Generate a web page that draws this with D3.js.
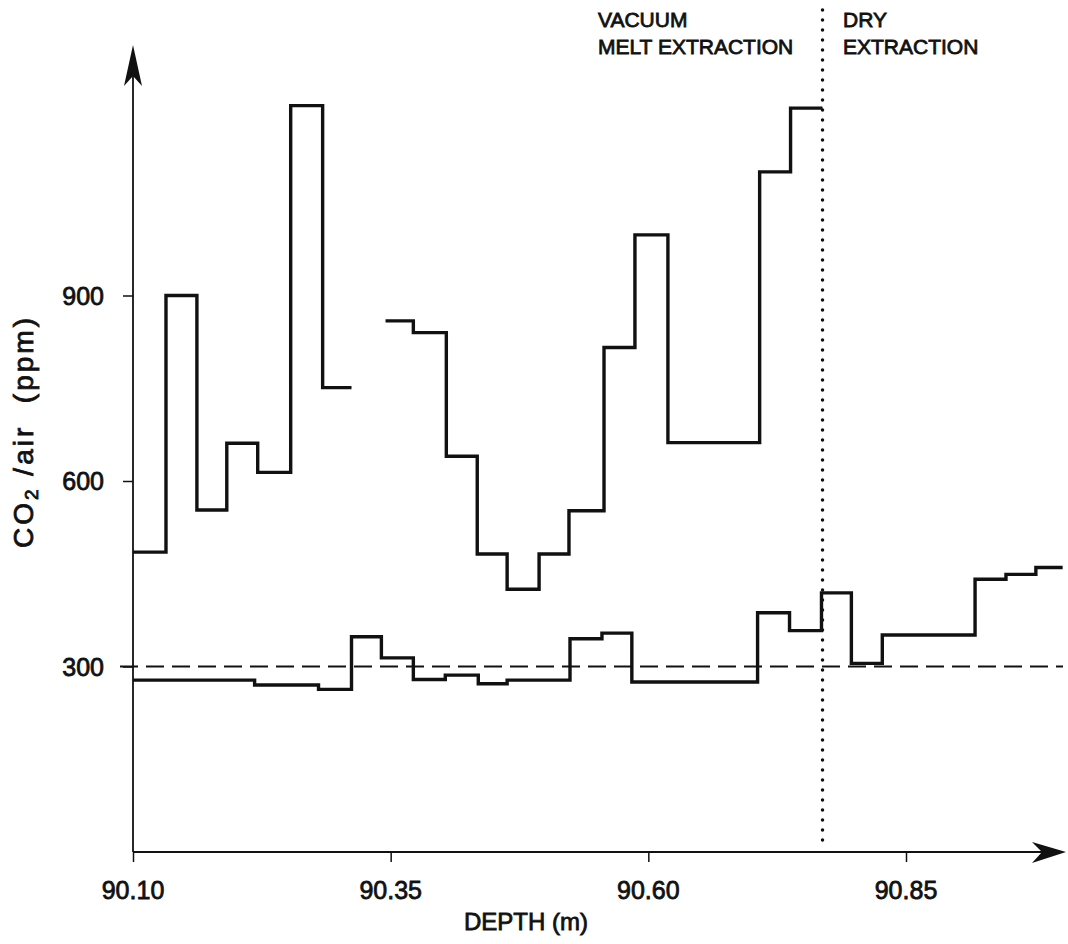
<!DOCTYPE html>
<html>
<head>
<meta charset="utf-8">
<script src="https://cdn.jsdelivr.net/npm/d3@7"></script>
<style>
  body { margin: 0; background: #fff; }
  text { font-family: "Liberation Sans", Arial, sans-serif; fill: #111; stroke: #111; stroke-width: 0.8; }
</style>
</head>
<body>
<svg width="1068" height="944"></svg>
<script>
// vacuum melt extraction, first run (depth breaks in m, CO2 in ppm)
var meltDepthA = [90.100, 90.132, 90.162, 90.191, 90.221, 90.253, 90.284, 90.312];
var meltValueA = [485, 900, 553, 661, 614, 1207, 751];

// vacuum melt extraction, second run
var meltDepthB = [90.345, 90.372, 90.404, 90.434, 90.463, 90.494, 90.523, 90.557, 90.587, 90.619, 90.708, 90.738, 90.769];
var meltValueB = [859, 840, 640, 482, 425, 482, 552, 816, 998, 662, 1100, 1203];

// lower series across both methods
var lowDepth = [90.100, 90.218, 90.280, 90.312, 90.341, 90.372, 90.403, 90.435, 90.463, 90.524, 90.555,
                90.584, 90.706, 90.737, 90.768, 90.797, 90.827, 90.917, 90.947, 90.976, 91.002];
var lowValue = [278, 270, 263, 348, 314, 279, 286, 272, 278, 345, 354,
                275, 387, 358, 419, 305, 351, 441, 449, 460];

var xTicks = [90.10, 90.35, 90.60, 90.85];
var xTickLabels = ["90.10", "90.35", "90.60", "90.85"];
var yTicks = [300, 600, 900];
var refLevel = 300;
var methodSplit = 90.769;

var svg = d3.select("svg");

var x = d3.scaleLinear().domain([90.10, 90.85]).range([133, 906]);
var y = d3.scaleLinear().domain([0, 900]).range([852, 295.5]);

var x0 = x(90.10), y0 = y(0);
var xEnd = 1066, yTop = 45;

function steps(breaks, vals) {
    var pts = vals.map(function(v, i) { return [breaks[i], v]; });
    pts.push([breaks[breaks.length - 1], vals[vals.length - 1]]);
    return pts;
}

var line = d3.line()
    .x(function(d) { return x(d[0]); })
    .y(function(d) { return y(d[1]); })
    .curve(d3.curveStepAfter);

// axes
var xAxis = svg.append("g")
    .attr("transform", "translate(0," + y0 + ")")
    .call(d3.axisBottom(x).tickValues(xTicks).tickSize(10).tickFormat(""));
xAxis.select(".domain").remove();
xAxis.selectAll("line").attr("stroke", "#111").attr("stroke-width", 1.5);

var yAxis = svg.append("g")
    .attr("transform", "translate(" + x0 + ",0)")
    .call(d3.axisLeft(y).tickValues(yTicks).tickSize(10).tickFormat(""));
yAxis.select(".domain").remove();
yAxis.selectAll("line").attr("stroke", "#111").attr("stroke-width", 1.5);

svg.append("line").attr("x1", x0).attr("y1", y0).attr("x2", xEnd - 20).attr("y2", y0)
    .attr("stroke", "#111").attr("stroke-width", 1.8);
svg.append("line").attr("x1", x0).attr("y1", y0).attr("x2", x0).attr("y2", yTop + 20)
    .attr("stroke", "#111").attr("stroke-width", 1.8);

// arrowheads
svg.append("path")
    .attr("d", "M" + xEnd + "," + y0 + " L" + (xEnd - 34) + "," + (y0 - 10) +
               " L" + (xEnd - 24) + "," + y0 + " L" + (xEnd - 34) + "," + (y0 + 11) + "Z")
    .attr("fill", "#111");
svg.append("path")
    .attr("d", "M" + x0 + "," + yTop + " L" + (x0 - 9) + "," + (yTop + 41) +
               " L" + x0 + "," + (yTop + 31) + " L" + (x0 + 9) + "," + (yTop + 41) + "Z")
    .attr("fill", "#111");

// tick labels
svg.append("g").selectAll("text")
    .data(xTicks)
    .enter().append("text")
    .attr("x", function(d) { return x(d); })
    .attr("y", 899)
    .attr("text-anchor", "middle")
    .style("font-size", "25px")
    .text(function(d, i) { return xTickLabels[i]; });

svg.append("g").selectAll("text")
    .data(yTicks)
    .enter().append("text")
    .attr("x", 104)
    .attr("y", function(d) { return y(d) + 9; })
    .attr("text-anchor", "end")
    .style("font-size", "25px")
    .text(function(d) { return d; });

// axis titles
svg.append("text")
    .attr("x", 526).attr("y", 930)
    .attr("text-anchor", "middle")
    .style("font-size", "24px")
    .text("DEPTH (m)");

var yl = svg.append("text")
    .attr("transform", "translate(33,433) rotate(-90)")
    .attr("text-anchor", "middle")
    .attr("textLength", 230)
    .attr("lengthAdjust", "spacing")
    .style("font-size", "28px");
yl.append("tspan").text("CO");
yl.append("tspan").attr("dy", 5).style("font-size", "19px").text("2");
yl.append("tspan").attr("dy", -5).attr("xml:space", "preserve").text(" /air  (ppm)");

// method annotations
var notes = [
    { x: 598, y: 27, t: "VACUUM" },
    { x: 598, y: 54, t: "MELT EXTRACTION" },
    { x: 843, y: 27, t: "DRY" },
    { x: 843, y: 54, t: "EXTRACTION" }
];
svg.append("g").selectAll("text")
    .data(notes)
    .enter().append("text")
    .attr("x", function(d) { return d.x; })
    .attr("y", function(d) { return d.y; })
    .style("font-size", "21px")
    .text(function(d) { return d.t; });

// reference level and method boundary
svg.append("line")
    .attr("x1", x0 - 13).attr("x2", 1063)
    .attr("y1", y(refLevel)).attr("y2", y(refLevel))
    .attr("stroke", "#111").attr("stroke-width", 2)
    .attr("stroke-dasharray", "18,8");

svg.append("line")
    .attr("x1", x(methodSplit)).attr("x2", x(methodSplit))
    .attr("y1", 10).attr("y2", y0 - 6)
    .attr("stroke", "#111").attr("stroke-width", 3.5)
    .attr("stroke-linecap", "round")
    .attr("stroke-dasharray", "0,10");

// step series
[steps(meltDepthA, meltValueA), steps(meltDepthB, meltValueB), steps(lowDepth, lowValue)]
    .forEach(function(pts) {
        svg.append("path")
            .attr("d", line(pts))
            .attr("fill", "none")
            .attr("stroke", "#111")
            .attr("stroke-width", 3.4)
            .attr("stroke-linejoin", "miter");
    });
</script>
</body>
</html>
